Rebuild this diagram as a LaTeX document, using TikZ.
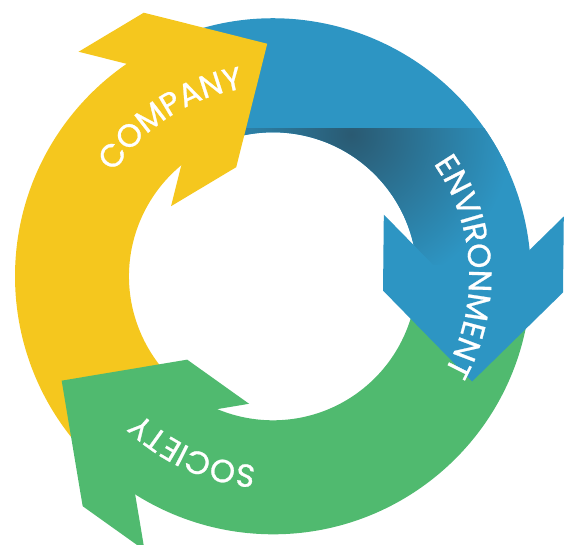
\documentclass[tikz,border=0pt]{standalone}
\usepackage{fontspec}
\newfontfamily\ringfont{Poppins}[FakeBold=0.8]
\usepackage{tikz}
\usetikzlibrary{decorations.text}

\definecolor{cyclegold}{HTML}{F5C71E}
\definecolor{cycleblue}{HTML}{2D95C3}
\definecolor{cyclegreen}{HTML}{50BA6F}
\definecolor{cycleshade}{HTML}{2A5A72}

\tikzstyle{company} = [fill=cyclegold, draw=none]
\tikzstyle{environment} = [fill=cycleblue, draw=none]
\tikzstyle{society} = [fill=cyclegreen, draw=none]
\tikzstyle{ringlabel} = [decorate, decoration={text along path, text align=center, text color=white}]

\newcommand{\ringfmt}{\ringfont\fontsize{32}{34}\selectfont}

\begin{document}
\begin{tikzpicture}[x=1pt, y=1pt]

\useasboundingbox (-273,-267.7) rectangle (292,276.3);

% bands
\fill[company] (228.6:258) arc[start angle=228.6, end angle=109, radius=258] -- (109:144) arc[start angle=109, end angle=228.6, radius=144] -- cycle;
\fill[environment] (114:258) arc[start angle=114, end angle=-9.35, radius=258] -- (-9.35:144) arc[start angle=-9.35, end angle=114, radius=144] -- cycle;
\fill[society] (355.65:258) arc[start angle=355.65, end angle=223.6, radius=258] -- (223.6:144) arc[start angle=223.6, end angle=355.65, radius=144] -- cycle;

% shadow under the company head
\begin{scope}
\clip (114:258) arc[start angle=114, end angle=-9.35, radius=258] -- (-9.35:144) arc[start angle=-9.35, end angle=114, radius=144] -- cycle;
\clip (-100,148.3) rectangle (300,-100);
\shade[inner color=cycleshade, outer color=cycleblue] (78,142) circle (160);
\end{scope}

% heads
\begin{scope}[shift={(114:204)}, rotate=30.9]
\fill[company] (90,0) -- (0,90) -- (-76,90) -- (-26,40) -- (-26,-40) -- (-76,-90) -- (0,-90) -- cycle;
\end{scope}
\begin{scope}[shift={(-4.35:200.6)}, rotate=-90.6]
\fill[environment] (90,0) -- (0,90) -- (-76,90) -- (-26,40) -- (-26,-40) -- (-76,-90) -- (0,-90) -- cycle;
\end{scope}
\begin{scope}[shift={(228.6:208.8)}, rotate=144.5]
\fill[society] (90,0) -- (0,90) -- (-76,90) -- (-26,40) -- (-26,-40) -- (-76,-90) -- (0,-90) -- cycle;
\end{scope}

% labels
\path[ringlabel, decoration={text={|\ringfmt|COMPANY}}] (182.9:190) arc[start angle=182.9, end angle=62.9, radius=190];
\path[ringlabel, decoration={text={|\ringfmt|ENVIRONMENT}}] (73:196) arc[start angle=73, end angle=-67, radius=196];
\path[ringlabel, decoration={text={|\ringfmt|SOCIETY}}] (305.5:190) arc[start angle=305.5, end angle=185.5, radius=190];

\end{tikzpicture}
\end{document}
